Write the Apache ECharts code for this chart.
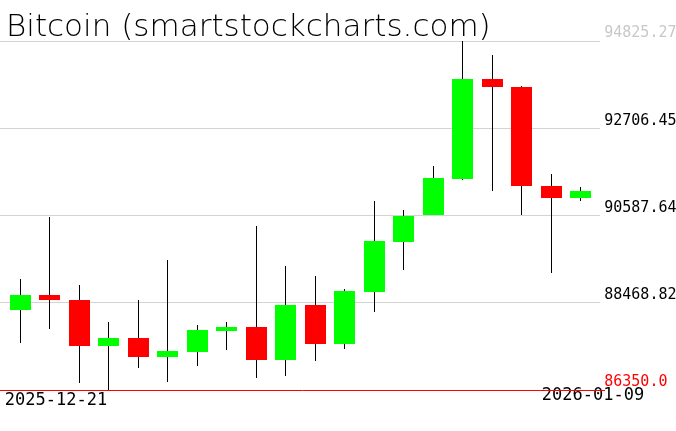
<!DOCTYPE html>
<html><head><meta charset="utf-8">
<script src="https://cdn.jsdelivr.net/npm/echarts@6/dist/echarts.min.js"></script>
<style>html,body{margin:0;padding:0;background:#fff}#c{width:676px;height:431px}</style>
</head><body><div id="c"></div>
<script>
const dates = ['2025-12-21','2025-12-22','2025-12-23','2025-12-24','2025-12-25','2025-12-26','2025-12-27','2025-12-28','2025-12-29','2025-12-30','2025-12-31','2026-01-01','2026-01-02','2026-01-03','2026-01-04','2026-01-05','2026-01-06','2026-01-07','2026-01-08','2026-01-09'];
const opens  = [88300, 88657, 88543, 87426, 87613, 87151, 87273, 87783, 87880, 87079, 88414, 87467, 88730, 89944, 90590, 91474, 93902, 93720, 91295, 91013];
const highs  = [89045, 90551, 88900, 88001, 88536, 89507, 87928, 88001, 90333, 89361, 89118, 88803, 90940, 90721, 91790, 94825.27, 94485, 93732, 91595, 91280];
const lows   = [87499, 87839, 86527, 86350.0, 86892, 86552, 86940, 87329, 86649, 86697, 87062, 87353, 88244, 89264, 90590, 91450, 91183, 90600, 89199, 90940];
const closes = [88657, 88543, 87426, 87613, 87151, 87297, 87807, 87880, 87079, 88414, 87467, 88754, 89968, 90583, 91506, 93902, 93720, 91295, 91013, 91183];
const yTicks = [86350.0, 88468.82, 90587.64, 92706.45, 94825.27];
const yTickLabels = ['86350.0', '88468.82', '90587.64', '92706.45', '94825.27'];
const xTickLabels = ['2025-12-21', '2026-01-09'];
const titleText = 'Bitcoin (smartstockcharts.com)';

const FONT = 'DejaVu Sans Mono';
const chart = echarts.init(document.getElementById('c'), null, {renderer: 'canvas'});
const candleData = dates.map((d, i) => [i, opens[i], closes[i], lows[i], highs[i]]);

function renderItem(params, api) {
  const i = api.value(0);
  const o = api.value(1), c = api.value(2), l = api.value(3), h = api.value(4);
  const pO = api.coord([i, o]), pC = api.coord([i, c]);
  const pL = api.coord([i, l]), pH = api.coord([i, h]);
  const cx = pO[0];
  const xl = Math.floor(cx) + 0.5;
  const top = Math.round(Math.min(pO[1], pC[1]));
  const bot = Math.round(Math.max(pO[1], pC[1]));
  const color = c >= o ? '#00ff00' : '#ff0000';
  return {
    type: 'group',
    children: [
      {type: 'rect', shape: {x: Math.round(cx - 10.5), y: top, width: 21, height: Math.max(1, bot - top)}, style: {fill: color}},
      {type: 'line', shape: {x1: xl, y1: Math.round(pH[1]), x2: xl, y2: top}, style: {stroke: '#000', lineWidth: 1}},
      {type: 'line', shape: {x1: xl, y1: bot, x2: xl, y2: Math.round(pL[1])}, style: {stroke: '#000', lineWidth: 1}}
    ]
  };
}

const gridLines = yTicks.slice(1).map(v => [
  {x: 0, yAxis: v, lineStyle: {color: '#d3d3d3', width: 1, type: 'solid'}},
  {x: 600, yAxis: v}
]);
gridLines.push([
  {x: 0, yAxis: yTicks[0], lineStyle: {color: '#ff0000', width: 1, type: 'solid'}},
  {x: 605, yAxis: yTicks[0]}
]);

const option = {
  animation: false,
  backgroundColor: '#fff',
  title: {
    text: titleText, left: 1, top: 7,
    textStyle: {fontFamily: 'DejaVu Sans', fontWeight: 200, fontSize: 31, color: '#000'}
  },
  grid: {left: 5.765, right: 80.76, top: 41, bottom: 41, containLabel: false, outerBoundsMode: 'none'},
  xAxis: {
    type: 'category', data: dates, boundaryGap: true,
    axisLine: {show: false}, axisTick: {show: false}, splitLine: {show: false},
    axisLabel: {
      interval: (i) => i === 0 || i === dates.length - 1,
      margin: -3, hideOverlap: false,
      formatter: (v, i) => i === 0 ? '{a|' + xTickLabels[0] + '}' : '{b|' + xTickLabels[1] + '}',
      rich: {
        a: {fontFamily: FONT, fontSize: 17, color: '#000', padding: [5, 0, 0, 71]},
        b: {fontFamily: FONT, fontSize: 17, color: '#000', padding: [0, 0, 0, 25]}
      }
    }
  },
  yAxis: {
    type: 'value', position: 'right', min: yTicks[0], max: yTicks[yTicks.length - 1], scale: true,
    axisLine: {show: false}, axisTick: {show: false, customValues: yTicks}, splitLine: {show: false},
    axisLabel: {
      customValues: yTicks, margin: 9, verticalAlign: 'bottom',
      fontFamily: FONT, fontSize: 15,
      formatter: (v) => {
        let k = 0, best = Infinity;
        yTicks.forEach((t, j) => { if (Math.abs(t - v) < best) { best = Math.abs(t - v); k = j; } });
        return yTickLabels[k];
      },
      color: (v) => {
        let k = 0, best = Infinity;
        yTicks.forEach((t, j) => { if (Math.abs(t - v) < best) { best = Math.abs(t - v); k = j; } });
        return k === 0 ? '#ff0000' : (k === yTicks.length - 1 ? '#c8c8c8' : '#000');
      }
    }
  },
  series: [{
    type: 'custom', renderItem: renderItem, data: candleData,
    encode: {x: 0, y: [1, 2, 3, 4]}, clip: false, z: 3,
    markLine: {silent: true, symbol: ['none', 'none'], label: {show: false}, z: 1, data: gridLines}
  }]
};
chart.setOption(option);
</script></body></html>
